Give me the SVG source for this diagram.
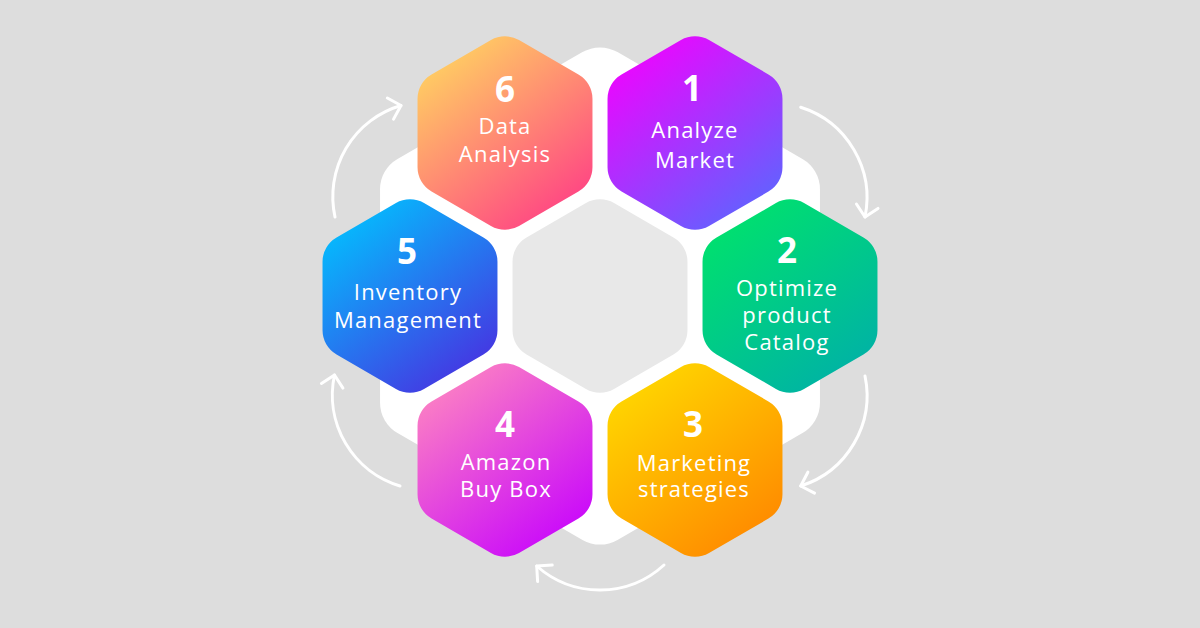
<svg xmlns="http://www.w3.org/2000/svg" width="1200" height="628" viewBox="0 0 1200 628">
  <style>
    .num { font-family: "Open Sans", "Liberation Sans", sans-serif; font-weight: 700; font-size: 35px; fill: #ffffff; text-anchor: middle; }
    .lbl { font-family: "Open Sans", "Liberation Sans", sans-serif; font-weight: 500; font-size: 22px; fill: #ffffff; text-anchor: middle; letter-spacing: 1.2px; }
    .arc { fill: none; stroke: #ffffff; stroke-width: 3; stroke-linecap: round; marker-end: url(#ah); }
  </style>
  <defs>
    <path id="hex" d="M-14.03,-92.9 A28,28 0 0 1 14.03,-92.9 L73.44,-58.6 A28,28 0 0 1 87.47,-34.3 L87.47,34.3 A28,28 0 0 1 73.44,58.6 L14.03,92.9 A28,28 0 0 1 -14.03,92.9 L-73.44,58.6 A28,28 0 0 1 -87.47,34.3 L-87.47,-34.3 A28,28 0 0 1 -73.44,-58.6 Z"/>
    <linearGradient id="g1" x1="0.15" y1="0" x2="0.85" y2="1">
      <stop offset="0" stop-color="#f500ff"/>
      <stop offset="1" stop-color="#5868ff"/>
    </linearGradient>
    <linearGradient id="g2" x1="0.15" y1="0" x2="0.85" y2="1">
      <stop offset="0" stop-color="#00e46a"/>
      <stop offset="1" stop-color="#00afa9"/>
    </linearGradient>
    <linearGradient id="g3" x1="0.15" y1="0" x2="0.85" y2="1">
      <stop offset="0" stop-color="#ffdb00"/>
      <stop offset="1" stop-color="#ff8500"/>
    </linearGradient>
    <linearGradient id="g4" x1="0.15" y1="0" x2="0.85" y2="1">
      <stop offset="0" stop-color="#ff88c0"/>
      <stop offset="1" stop-color="#c600ff"/>
    </linearGradient>
    <linearGradient id="g5" x1="0.15" y1="0" x2="0.85" y2="1">
      <stop offset="0" stop-color="#00c4ff"/>
      <stop offset="1" stop-color="#4a2ce0"/>
    </linearGradient>
    <linearGradient id="g6" x1="0.15" y1="0" x2="0.85" y2="1">
      <stop offset="0" stop-color="#ffd860"/>
      <stop offset="1" stop-color="#ff3b86"/>
    </linearGradient>
    <marker id="ah" markerUnits="userSpaceOnUse" viewBox="-16 -16 32 32" refX="0" refY="0" markerWidth="32" markerHeight="32" orient="auto">
      <path d="M-11,-11 L0,0 L-11,11" fill="none" stroke="#ffffff" stroke-width="3" stroke-linecap="round" stroke-linejoin="round"/>
    </marker>
  </defs>

  <rect x="0" y="0" width="1200" height="628" fill="#dddddd"/>

  <g id="backdrop">
    <path transform="translate(600,296)" fill="#ffffff" d="M-17.49,-243.9 A35,35 0 0 1 17.49,-243.9 L202.48,-137.1 A35,35 0 0 1 219.97,-106.8 L219.97,106.8 A35,35 0 0 1 202.48,137.1 L17.49,243.9 A35,35 0 0 1 -17.49,243.9 L-202.48,137.1 A35,35 0 0 1 -219.97,106.8 L-219.97,-106.8 A35,35 0 0 1 -202.48,-137.1 Z"/>
  </g>

  <g id="center">
    <use href="#hex" transform="translate(600,296)" fill="#e8e8e8"/>
  </g>

  <g id="connectors">
    <path class="arc" d="M800.7,107.3 A95,95 0 0 1 865,217"/>
    <path class="arc" d="M865,376 A95,95 0 0 1 800.7,486"/>
    <path class="arc" d="M664,565 A95,95 0 0 1 536.7,566"/>
    <path class="arc" d="M400,486 A95,95 0 0 1 334.5,375"/>
    <path class="arc" d="M335,217 A95,95 0 0 1 401,105.5"/>
  </g>

  <g id="node1">
    <use href="#hex" transform="translate(695,133)" fill="url(#g1)"/>
    <text class="num" x="692" y="101">1</text>
    <text class="lbl" x="695" y="137.5">Analyze</text>
    <text class="lbl" x="695" y="168">Market</text>
  </g>

  <g id="node2">
    <use href="#hex" transform="translate(790,296)" fill="url(#g2)"/>
    <text class="num" x="787" y="263">2</text>
    <text class="lbl" x="787" y="295.5">Optimize</text>
    <text class="lbl" x="787" y="322.5">product</text>
    <text class="lbl" x="787" y="350">Catalog</text>
  </g>

  <g id="node3">
    <use href="#hex" transform="translate(695,460)" fill="url(#g3)"/>
    <text class="num" x="693" y="437">3</text>
    <text class="lbl" x="694" y="470.5">Marketing</text>
    <text class="lbl" x="694" y="497">strategies</text>
  </g>

  <g id="node4">
    <use href="#hex" transform="translate(505,460)" fill="url(#g4)"/>
    <text class="num" x="505" y="437">4</text>
    <text class="lbl" x="506" y="470">Amazon</text>
    <text class="lbl" x="506" y="497">Buy Box</text>
  </g>

  <g id="node5">
    <use href="#hex" transform="translate(410,296)" fill="url(#g5)"/>
    <text class="num" x="407" y="264">5</text>
    <text class="lbl" x="408" y="300">Inventory</text>
    <text class="lbl" x="408" y="327.5">Management</text>
  </g>

  <g id="node6">
    <use href="#hex" transform="translate(505,133)" fill="url(#g6)"/>
    <text class="num" x="505" y="101.5">6</text>
    <text class="lbl" x="505" y="134">Data</text>
    <text class="lbl" x="505" y="162">Analysis</text>
  </g>
</svg>
